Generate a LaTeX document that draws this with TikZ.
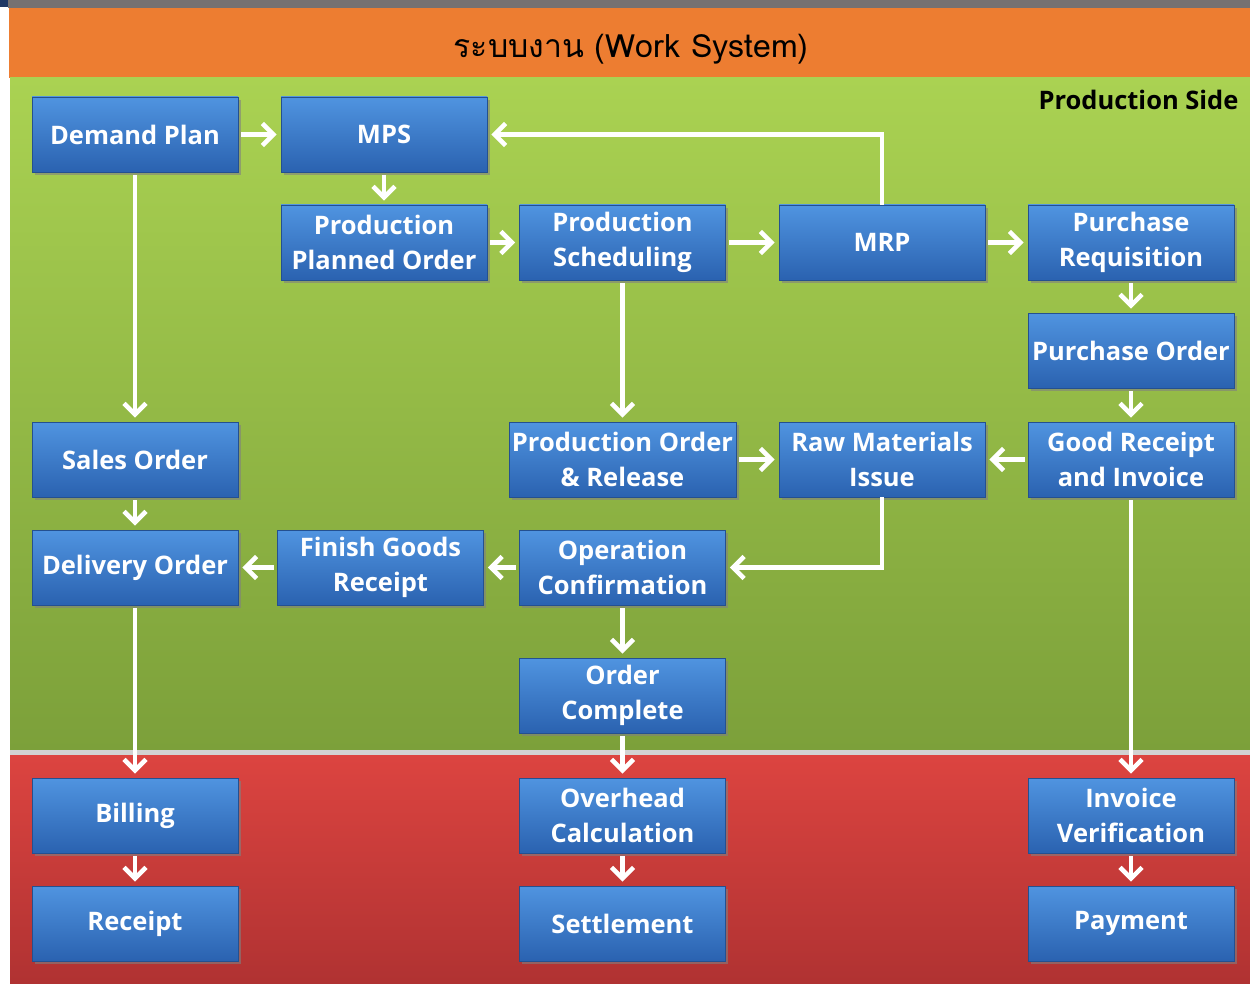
\documentclass[tikz,border=0pt]{standalone}
\usepackage{fontspec}
\setmainfont{Open Sans}
\newfontfamily\thaifont[Script=Thai]{Loma}
\usetikzlibrary{arrows.meta,shadows}
\definecolor{topbar}{RGB}{118,113,113}
\definecolor{navy}{RGB}{31,56,100}
\definecolor{orangeband}{RGB}{237,125,49}
\definecolor{greentop}{RGB}{170,210,82}
\definecolor{greenbot}{RGB}{124,160,58}
\definecolor{redtop}{RGB}{220,68,64}
\definecolor{redbot}{RGB}{176,50,50}
\definecolor{boxtop}{RGB}{80,148,224}
\definecolor{boxbot}{RGB}{42,98,176}
\definecolor{boxline}{RGB}{36,80,144}
\tikzset{
  box/.style={draw=boxline, line width=0.8pt, top color=boxtop, bottom color=boxbot,
    minimum width=206pt, minimum height=75pt, inner sep=0pt, align=center, text=white,
    font=\fontsize{25.5}{35}\selectfont\bfseries,
    drop shadow={shadow xshift=2.5pt, shadow yshift=-3pt, opacity=.6}},
  flow/.style={draw=white, line width=4.5pt, -{Straight Barb[length=11pt,width=22pt]},
    shorten >=4pt, shorten <=3pt}
}
\begin{document}
\begin{tikzpicture}[x=1pt,y=-1pt]
  \useasboundingbox (0,0) rectangle (1250,984);
  % background bands
  \fill[white] (0,0) rectangle (1250,984);
  \fill[topbar] (8,0) rectangle (1250,8);
  \fill[navy] (0,0) rectangle (8,7);
  \fill[orangeband] (9,8) rectangle (1250,78);
  \fill[top color=greentop, bottom color=greenbot] (10,78) rectangle (1250,750);
  \fill[gray!35] (10,750) rectangle (1250,755);
  \fill[top color=redtop, bottom color=redbot] (10,755) rectangle (1250,984);
  \draw (631,49) node (title){\thaifont\fontsize{32}{38}\selectfont ระบบงาน (Work System)};
  \draw (1242,110) node[anchor=base east, font=\fontsize{25.5}{30}\selectfont\bfseries] (side){Production Side};
  % boxes
  \draw
    (135,134.5) node[box] (dp){Demand Plan}
    (384,134.5) node[box] (mps){MPS}
    (384,242.5) node[box] (ppo){Production\\Planned Order}
    (622.5,242.5) node[box] (ps){Production\\Scheduling}
    (882,242.5) node[box] (mrp){MRP}
    (1131,242.5) node[box] (pr){Purchase\\Requisition}
    (1131,350.5) node[box] (po){Purchase Order}
    (135,459.5) node[box] (so){Sales Order}
    (622.5,459.5) node[box, minimum width=227pt] (por){Production Order\\\& Release}
    (882,459.5) node[box] (rmi){Raw Materials\\Issue}
    (1131,459.5) node[box] (gr){Good Receipt\\and Invoice}
    (135,567.5) node[box] (do){Delivery Order}
    (380.5,567.5) node[box] (fgr){Finish Goods\\Receipt}
    (622.5,567.5) node[box] (oc){Operation\\Confirmation}
    (622.5,695.5) node[box] (ordc){Order\\Complete}
    (135,815.5) node[box] (bill){Billing}
    (622.5,815.5) node[box] (ohc){Overhead\\Calculation}
    (1131,815.5) node[box] (iv){Invoice\\Verification}
    (135,923.5) node[box] (rcp){Receipt}
    (622.5,923.5) node[box] (stl){Settlement}
    (1131,923.5) node[box] (pay){Payment};
  \begin{scope}[flow]
    \draw (dp) to (mps);
    \draw (mps) to (ppo);
    \draw (ppo) to (ps);
    \draw (ps) to (mrp);
    \draw (mrp) to (pr);
    \draw[shorten <=0pt] (mrp.north) |- (mps.east);
    \draw (pr) to (po);
    \draw (po) to (gr);
    \draw (gr) to (rmi);
    \draw (ps) to (por);
    \draw (por) to (rmi);
    \draw[shorten <=0pt] (rmi.south) |- (oc.east);
    \draw (oc) to (fgr);
    \draw (fgr) to (do);
    \draw (dp) to (so);
    \draw (so) to (do);
    \draw (do) to (bill);
    \draw (bill) to (rcp);
    \draw (oc) to (ordc);
    \draw (ordc) to (ohc);
    \draw (ohc) to (stl);
    \draw (gr) to (iv);
    \draw (iv) to (pay);
  \end{scope}
\end{tikzpicture}
\end{document}
